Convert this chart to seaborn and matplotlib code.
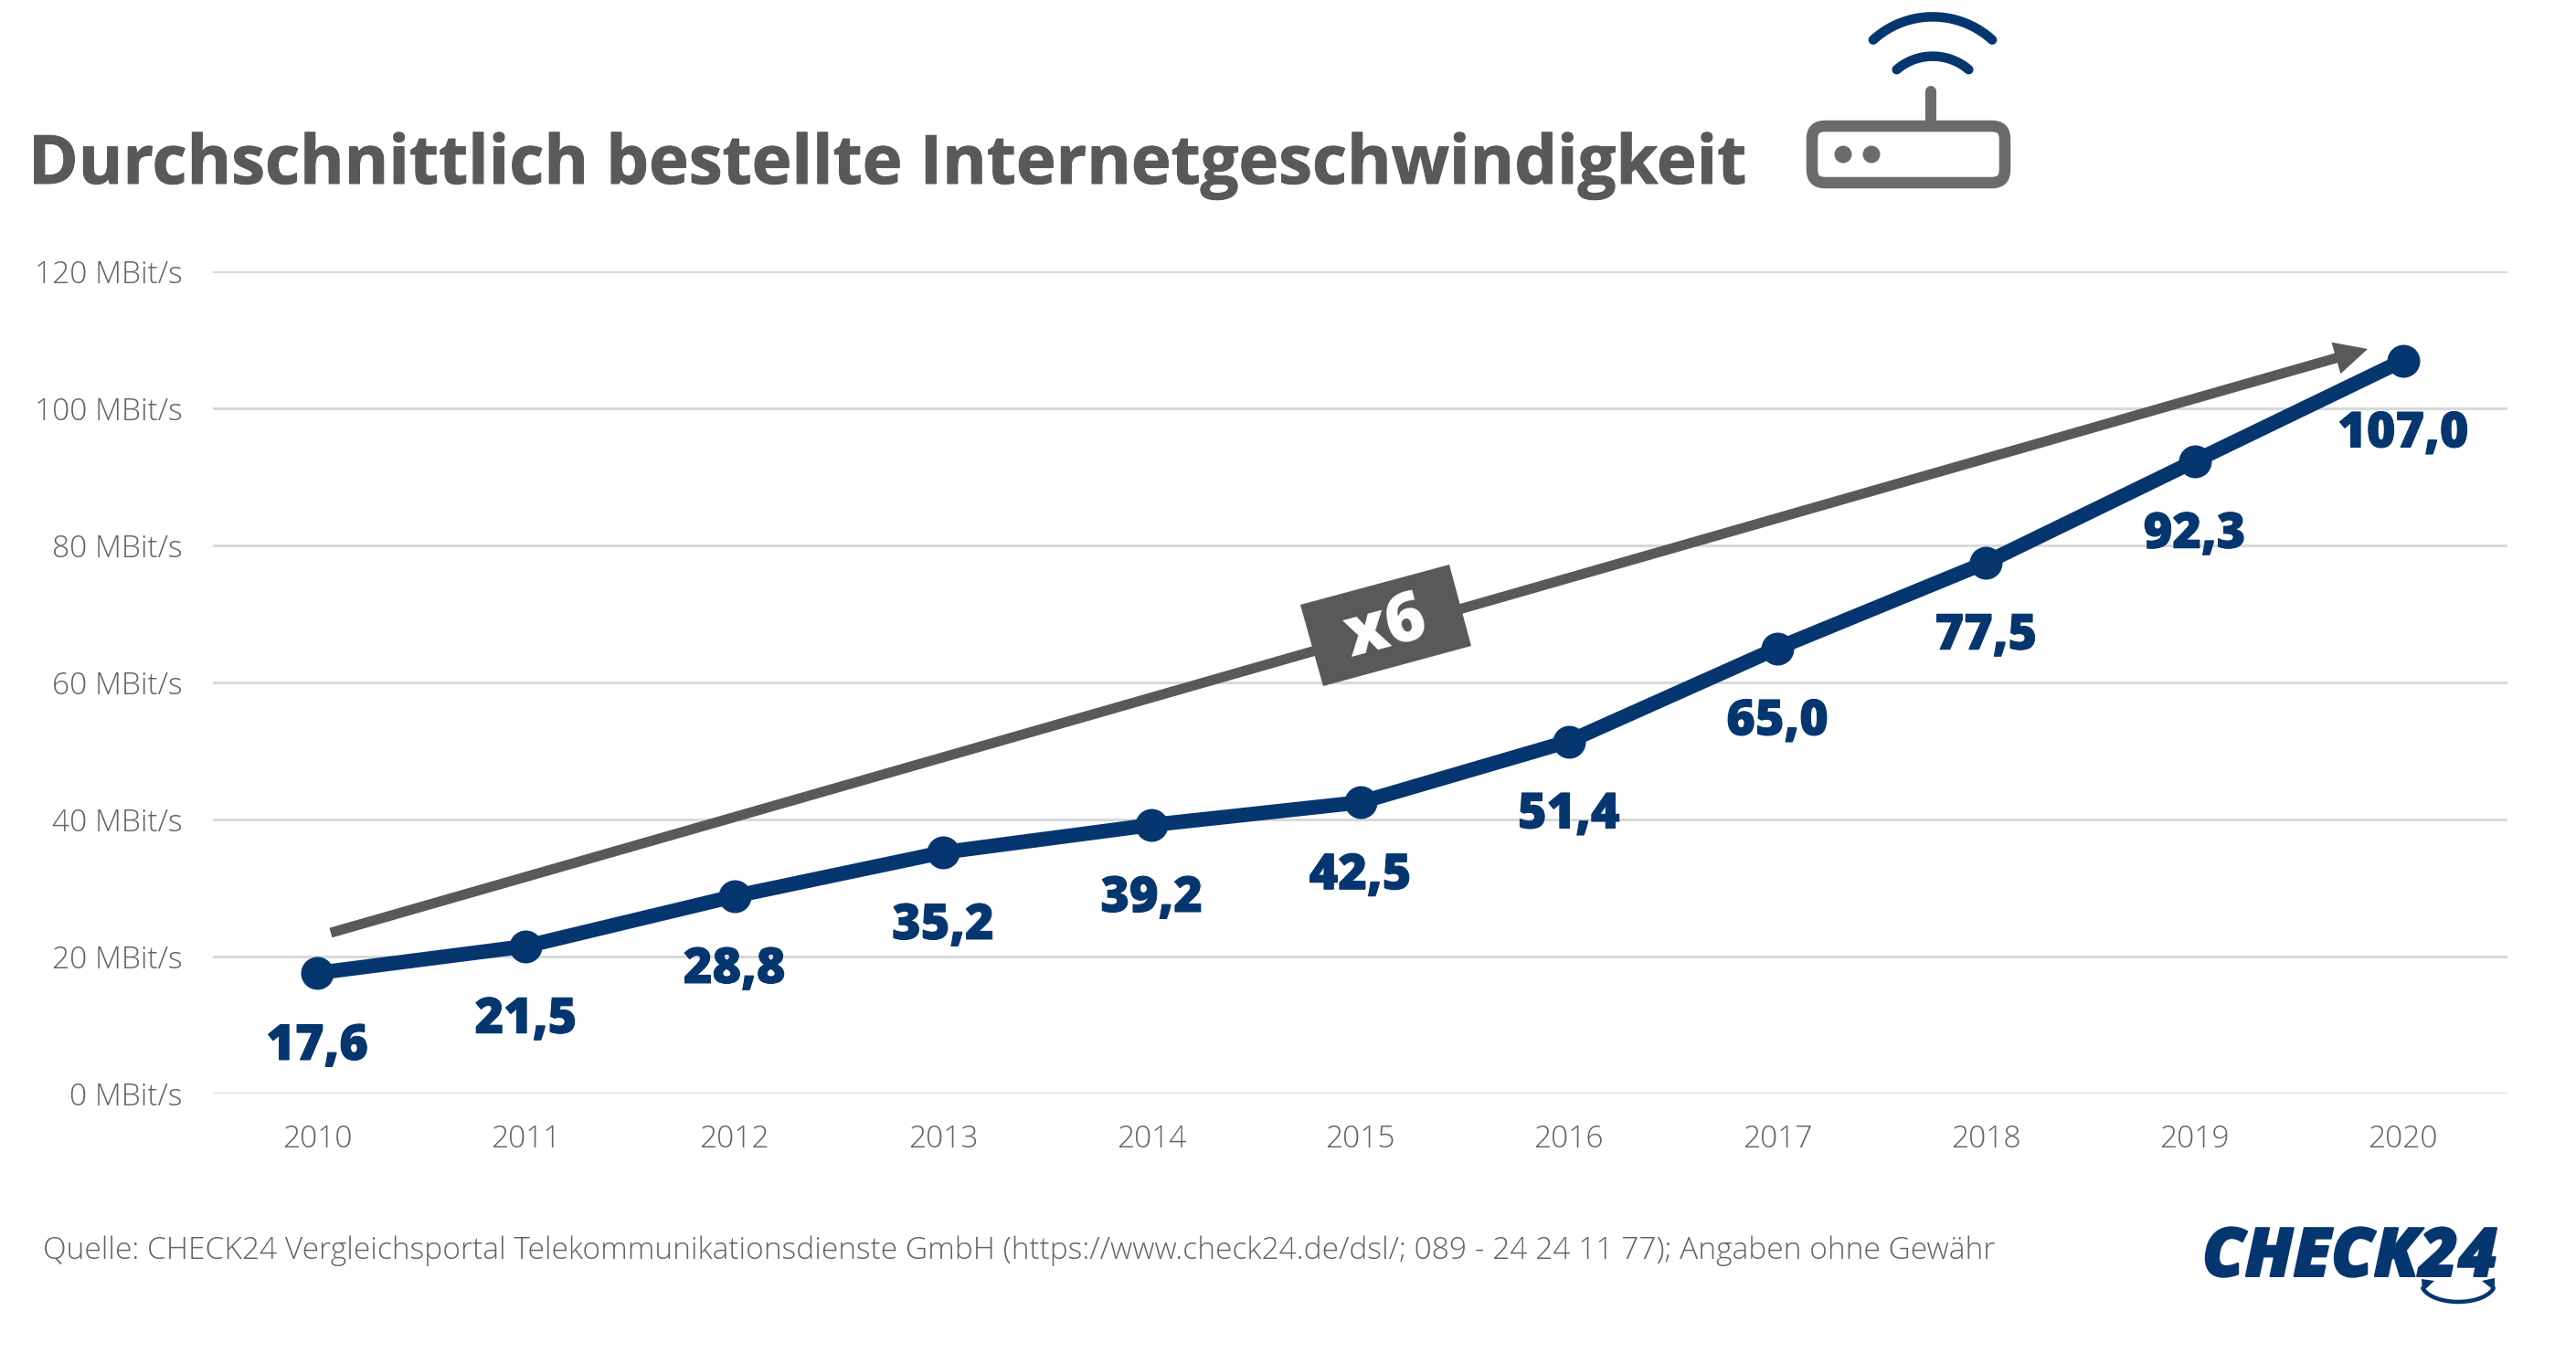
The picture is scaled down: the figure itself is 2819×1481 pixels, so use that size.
import numpy as np
import pandas as pd
import matplotlib
matplotlib.use("Agg")
import matplotlib.pyplot as plt
import matplotlib.patheffects as pe
from matplotlib.patches import Polygon, FancyBboxPatch, Circle
import seaborn as sns

W, H = 2819, 1481
NAVY = "#06366f"
GREY = "#595959"
LIGHT_GREY = "#636363"
ICON_GREY = "#6b6b6b"

years = [str(y) for y in range(2010, 2021)]
speed = [17.6, 21.5, 28.8, 35.2, 39.2, 42.5, 51.4, 65.0, 77.5, 92.3, 107.0]
labels = ["17,6", "21,5", "28,8", "35,2", "39,2", "42,5", "51,4", "65,0", "77,5", "92,3", "107,0"]
yticks = [0, 20, 40, 60, 80, 100, 120]
ytick_labels = [f"{v} MBit/s" for v in yticks]

sns.set_theme(style="white")
plt.rcParams["font.family"] = ["Open Sans", "DejaVu Sans"]

fig = plt.figure(figsize=(W / 200, H / 200), dpi=200)
PX = 72 / 200  # points per pixel


def heavy(px, color):
    # thicken the glyphs a little, the original font is heavier
    return [pe.withStroke(linewidth=px * PX, foreground=color)]


# axes placed in pixel positions
left, right, top, bottom = 233, 2744, 297, 1197
ax = fig.add_axes([left / W, 1 - bottom / H, (right - left) / W, (bottom - top) / H])

df = pd.DataFrame({"year": years, "speed": speed})
sns.lineplot(data=df, x="year", y="speed", ax=ax, color=NAVY, lw=16 * PX, marker="o",
             markersize=36 * PX, markeredgewidth=0, sort=False, zorder=4)
ax.set_xlim(-0.5, 10.5)
ax.set_ylim(0, 120)
ax.set_yticks(yticks)
ax.set_yticklabels(ytick_labels)
ax.set_xlabel("")
ax.set_ylabel("")
ax.grid(axis="y", color="#d9d9d9", lw=3 * PX)
ax.set_axisbelow(True)
sns.despine(ax=ax, left=True, bottom=True)
for t in ax.get_yticklabels() + ax.get_xticklabels():
    t.set_fontsize(33.5 * PX)
    t.set_color(LIGHT_GREY)
    t.set_fontweight(300)
ax.tick_params(axis="y", length=0, pad=33 * PX)
ax.tick_params(axis="x", length=0, pad=33 * PX)

# value labels below each point
for i, (v, s) in enumerate(zip(speed, labels)):
    ax.annotate(s, (i, v), xytext=(0, -95 * PX), textcoords="offset points",
                ha="center", va="baseline", fontsize=54 * PX, fontweight=800, color=NAVY,
                path_effects=heavy(1, NAVY))

# overlay in pixel coordinates
ov = fig.add_axes([0, 0, 1, 1], zorder=5)
ov.set_xlim(0, W)
ov.set_ylim(H, 0)
ov.axis("off")
ov.patch.set_alpha(0)

ov.text(31, 201, "Durchschnittlich bestellte Internetgeschwindigkeit", fontsize=74 * PX,
        fontweight="bold", color=GREY, va="baseline", ha="left", path_effects=heavy(1, GREY))
ov.text(47, 1378, "Quelle: CHECK24 Vergleichsportal Telekommunikationsdienste GmbH (https://www.check24.de/dsl/; 089 - 24 24 11 77); Angaben ohne Gewähr",
        fontsize=33.5 * PX, fontweight=300, color=LIGHT_GREY, va="baseline", ha="left")

# growth arrow
ov.annotate("", xy=(2591, 382), xytext=(362, 1021),
            arrowprops=dict(arrowstyle=f"simple,head_length={36 * PX},head_width={36 * PX},tail_width={11 * PX}",
                            mutation_scale=1, color=GREY, lw=0, shrinkA=0, shrinkB=0))
ov.add_patch(Polygon([(1423, 662), (1586, 618), (1610, 707), (1448, 751)], closed=True,
                     fc=GREY, ec="none", zorder=6))
ov.text(1517, 688, "x6", fontsize=74 * PX, fontweight=800, color="white", rotation=15.1,
        rotation_mode="anchor", ha="center", va="center", zorder=7)

# router icon
ov.add_patch(FancyBboxPatch((1983, 138), 211, 62, boxstyle="round,pad=0,rounding_size=14",
                            fc="white", ec=ICON_GREY, lw=12.5 * PX))
ov.plot([2113, 2113], [100, 135], color=ICON_GREY, lw=12 * PX, solid_capstyle="round")
for cx in (2017, 2048):
    ov.add_patch(Circle((cx, 169), 9.5, fc=ICON_GREY, ec="none"))
for (cx, cy, rad, a) in [(2115, 115, 96.6, 0.74), (2115, 122, 60.4, 0.71)]:
    th = np.linspace(-a, a, 40)
    ov.plot(cx + rad * np.sin(th), cy - rad * np.cos(th), color=NAVY, lw=10.5 * PX,
            solid_capstyle="round")

# logo
ov.text(2410, 1397, "CHECK24", fontsize=74 * PX, fontweight=800, style="italic", color=NAVY,
        va="baseline", ha="left", path_effects=heavy(2, NAVY))
th = np.linspace(0.25, np.pi - 0.25, 30)
ov.plot(2690 + 40 * np.cos(th), 1405 + 20 * np.sin(th), color=NAVY, lw=4.5 * PX)
ov.add_patch(Polygon([(2650, 1400), (2664, 1402), (2651, 1414)], fc=NAVY, ec="none"))
ov.add_patch(Polygon([(2730, 1399), (2716, 1402), (2730, 1413)], fc=NAVY, ec="none"))

fig.savefig("out.png", dpi=200, facecolor="white")
